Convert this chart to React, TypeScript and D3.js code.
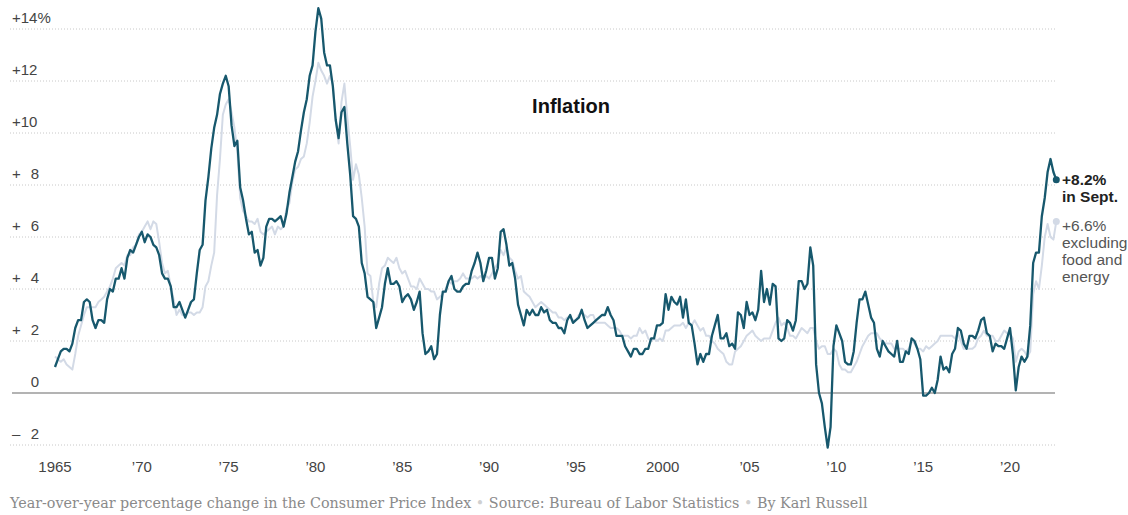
import React from "react";
import * as d3 from "d3";

// Bimonthly observations (Jan, Mar, May, Jul, Sep, Nov) starting Jan 1965, ending Sep 2022
const START_YEAR = 1965;
const STEP = 1 / 6;

const headline: number[] = [
  1.0, 1.3, 1.6, 1.7, 1.7, 1.6,
  1.9, 2.5, 2.8, 2.8, 3.5, 3.6,
  3.5, 2.8, 2.5, 2.8, 2.8, 2.7,
  3.6, 4.0, 3.9, 4.4, 4.4, 4.8,
  4.4, 5.2, 5.5, 5.4, 5.7, 6.0,
  6.2, 5.8, 6.1, 6.0, 5.7, 5.6,
  5.3, 4.6, 4.4, 4.4, 4.1, 3.3,
  3.3, 3.5, 3.2, 2.9, 3.2, 3.5,
  3.6, 4.6, 5.5, 5.7, 7.4, 8.3,
  9.4, 10.2, 10.7, 11.5, 11.9, 12.2,
  11.8, 10.3, 9.5, 9.7, 7.9, 7.4,
  6.7, 6.1, 6.2, 5.4, 5.5, 4.9,
  5.2, 6.4, 6.7, 6.7, 6.6, 6.7,
  6.8, 6.4, 6.9, 7.7, 8.3, 8.9,
  9.3, 10.1, 10.8, 11.3, 12.2, 12.6,
  13.9, 14.8, 14.4, 13.1, 12.6, 12.6,
  11.8, 10.5, 9.8, 10.8, 11.0, 9.6,
  8.4, 6.8, 6.7, 6.4, 5.0, 4.6,
  3.7, 3.6, 3.5, 2.5, 2.9, 3.3,
  4.2, 4.8, 4.2, 4.2, 4.3, 4.1,
  3.5, 3.7, 3.8, 3.6, 3.2, 3.5,
  3.9, 2.3, 1.5, 1.6, 1.8, 1.3,
  1.5, 3.0, 3.9, 3.9, 4.3, 4.5,
  4.0, 3.9, 3.9, 4.1, 4.2, 4.2,
  4.7, 5.0, 5.4, 5.0, 4.3, 4.7,
  5.2, 5.2, 4.4, 4.8, 6.2, 6.3,
  5.7, 4.9, 5.0, 4.4, 3.4, 3.0,
  2.6, 3.2, 3.0, 3.2, 3.0, 3.0,
  3.3, 3.1, 3.2, 2.8, 2.7, 2.7,
  2.5, 2.5, 2.3, 2.8, 3.0, 2.7,
  2.8, 2.9, 3.2, 2.8, 2.5, 2.6,
  2.7, 2.8, 2.9, 3.0, 3.0, 3.3,
  3.0, 2.8, 2.2, 2.2, 2.2, 1.8,
  1.6, 1.4, 1.7, 1.7, 1.5, 1.5,
  1.7, 1.7, 2.1, 2.1, 2.6, 2.6,
  2.7, 3.8, 3.2, 3.7, 3.5, 3.4,
  3.7, 2.9, 3.6, 2.7, 2.6, 1.9,
  1.1, 1.5, 1.2, 1.5, 1.5, 2.2,
  2.6, 3.0, 2.1, 2.1, 2.3, 1.8,
  1.9, 1.7, 3.1, 3.0, 2.5, 3.5,
  3.0, 3.1, 2.8, 3.2, 4.7, 3.5,
  4.0, 3.4, 4.2, 4.1, 2.1, 2.0,
  2.1, 2.8, 2.7, 2.4, 2.8, 4.3,
  4.3, 4.0, 4.2, 5.6, 4.9, 1.1,
  0.0, -0.4, -1.3, -2.1, -1.3, 1.8,
  2.6, 2.3, 2.0, 1.2, 1.1, 1.1,
  1.6, 2.7, 3.6, 3.6, 3.9, 3.4,
  2.9, 2.7, 1.7, 1.4, 2.0, 1.8,
  1.6, 1.5, 1.4, 2.0, 1.2, 1.2,
  1.6, 1.5, 2.1, 2.0, 1.7, 1.3,
  -0.1, -0.1, 0.0, 0.2, 0.0, 0.5,
  1.4, 0.9, 1.0, 0.8, 1.5, 1.7,
  2.5, 2.4, 1.9, 1.7, 2.2, 2.2,
  2.1, 2.4, 2.8, 2.9, 2.3, 2.2,
  1.6, 1.9, 1.8, 1.8, 1.7, 2.1,
  2.5, 1.5, 0.1, 1.0, 1.4, 1.2,
  1.4, 2.6, 5.0, 5.4, 5.4, 6.8,
  7.5, 8.5, 9.0, 8.5, 8.2,
];

const core: number[] = [
  1.4, 1.3, 1.2, 1.3, 1.1, 1.0,
  0.9, 1.5, 2.2, 2.6, 3.0, 3.3,
  3.3, 3.3, 3.3, 3.5, 3.6, 3.7,
  3.9, 4.1, 4.4, 4.8, 4.9, 5.0,
  4.9, 5.3, 5.3, 5.6, 5.7, 6.1,
  6.2, 6.4, 6.6, 6.3, 6.6, 6.5,
  5.8, 5.0, 4.6, 4.7, 4.1, 3.6,
  3.0, 3.2, 3.0, 3.0, 3.1, 3.1,
  3.0, 3.1, 3.1, 3.3, 4.1, 4.3,
  4.9, 5.4, 7.6, 9.0, 10.7, 11.1,
  11.3, 10.8, 10.2, 9.3, 7.5, 7.0,
  6.8, 6.6, 6.6, 6.5, 6.7, 6.2,
  6.1, 6.2, 6.3, 6.4, 6.1, 6.4,
  6.3, 6.4, 7.1, 7.3, 8.1, 8.6,
  8.7, 9.0, 9.1, 9.6, 10.4, 11.4,
  12.0, 12.7, 12.4, 12.2, 11.9, 12.2,
  11.9, 10.5, 9.6, 11.2, 11.9, 10.6,
  9.5, 8.2, 8.8, 8.4, 7.5, 6.4,
  4.6, 4.5, 3.5, 3.3, 4.2, 4.8,
  4.9, 5.2, 5.1, 5.0, 5.2, 4.8,
  4.6, 4.7, 4.4, 4.1, 4.1, 4.0,
  4.4, 4.2, 4.0, 4.0, 3.9, 3.9,
  3.6, 3.7, 3.8, 4.0, 4.3, 4.2,
  4.3, 4.3, 4.4, 4.6, 4.4, 4.4,
  4.4, 4.5, 4.4, 4.5, 4.4, 4.5,
  4.4, 4.6, 4.8, 5.0, 5.5, 5.3,
  5.6, 5.2, 5.1, 4.7, 4.4, 4.5,
  3.9, 3.8, 3.7, 3.5, 3.3, 3.4,
  3.5, 3.4, 3.3, 3.2, 3.1, 3.1,
  2.9, 2.9, 2.8, 2.9, 2.9, 2.8,
  2.8, 3.0, 3.1, 3.0, 2.9, 3.0,
  3.0, 2.7, 2.7, 2.7, 2.7, 2.6,
  2.5, 2.5, 2.5, 2.4, 2.2, 2.2,
  2.2, 2.1, 2.2, 2.2, 2.5, 2.3,
  2.4, 2.1, 2.0, 2.1, 2.0, 2.1,
  2.0, 2.4, 2.4, 2.5, 2.6, 2.6,
  2.6, 2.7, 2.5, 2.7, 2.6, 2.8,
  2.6, 2.4, 2.5, 2.2, 2.2, 2.0,
  1.9, 1.7, 1.6, 1.5, 1.2, 1.1,
  1.1, 1.6, 1.7, 1.8, 2.0, 2.2,
  2.3, 2.4, 2.2, 2.1, 2.0, 2.1,
  2.1, 2.1, 2.4, 2.7, 2.9, 2.6,
  2.7, 2.5, 2.2, 2.2, 2.1, 2.3,
  2.5, 2.4, 2.3, 2.5, 2.5, 2.0,
  1.7, 1.8, 1.8, 1.5, 1.5, 1.7,
  1.6, 1.1, 0.9, 0.9, 0.8, 0.8,
  1.0, 1.2, 1.5, 1.8, 2.0, 2.2,
  2.3, 2.3, 2.3, 2.1, 2.0, 1.9,
  1.9, 1.9, 1.7, 1.7, 1.7, 1.7,
  1.6, 1.7, 2.0, 1.9, 1.7, 1.7,
  1.6, 1.8, 1.7, 1.8, 1.9, 2.0,
  2.2, 2.2, 2.2, 2.2, 2.2, 2.1,
  2.3, 2.0, 1.7, 1.7, 1.7, 1.7,
  1.8, 2.1, 2.2, 2.4, 2.2, 2.2,
  2.2, 2.0, 2.0, 2.2, 2.4, 2.3,
  2.3, 2.1, 1.2, 1.6, 1.7, 1.6,
  1.4, 1.6, 3.8, 4.3, 4.0, 4.9,
  6.0, 6.5, 6.0, 5.9, 6.6,
];

const yTicks: number[] = [14, 12, 10, 8, 6, 4, 2, 0, -2];
const xTicks: number[] = [1965, 1970, 1975, 1980, 1985, 1990, 1995, 2000, 2005, 2010, 2015, 2020];
const xTickLabels: string[] = ["1965", "\u201970", "\u201975", "\u201980", "\u201985", "\u201990", "\u201995", "2000", "\u201905", "\u201910", "\u201915", "\u201920"];

const W = 1128;
const H = 515;

export default function App() {
  const x = d3.scaleLinear().domain([1965, 2020]).range([55, 1010]);
  const y = d3.scaleLinear().domain([0, 14]).range([393, 29]);
  const t = (i: number) => START_YEAR + i * STEP;

  const line = d3
    .line<number>()
    .x((_, i) => x(t(i)))
    .y((d) => y(d));

  const lastH = headline.length - 1;
  const lastC = core.length - 1;
  const sans = "'Liberation Sans', Arial, sans-serif";
  const gridX0 = 10;
  const gridX1 = 1055;
  const labelStyle = { fontFamily: sans, fontSize: 15, fill: "#444" };

  return (
    <div style={{ position: "absolute", left: 0, top: 0 }}>
      <svg width={W} height={H} style={{ display: "block", background: "#fff" }}>
        {/* grid */}
        {yTicks.map((v) =>
          v === 0 ? null : (
            <line
              key={"g" + v}
              x1={gridX0}
              x2={gridX1}
              y1={y(v)}
              y2={y(v)}
              stroke="#c8c8c8"
              strokeWidth={1}
              strokeDasharray="1,2"
            />
          )
        )}
        {/* y labels */}
        {yTicks.map((v) => {
          const yy = y(v) - 6;
          if (v === 0)
            return (
              <text key={"l" + v} x={39} y={yy} textAnchor="end" style={labelStyle}>
                0
              </text>
            );
          if (Math.abs(v) >= 10)
            return (
              <text key={"l" + v} x={12} y={yy} style={labelStyle}>
                {"+" + v + (v === 14 ? "%" : "")}
              </text>
            );
          return (
            <g key={"l" + v}>
              <text x={12} y={yy} style={labelStyle}>
                {v > 0 ? "+" : "\u2013"}
              </text>
              <text x={39} y={yy} textAnchor="end" style={labelStyle}>
                {Math.abs(v)}
              </text>
            </g>
          );
        })}
        {/* zero line */}
        <line x1={12} x2={gridX1} y1={y(0)} y2={y(0)} stroke="#b3b3b3" strokeWidth={2} />

        {/* core line */}
        <path d={line(core) || ""} fill="none" stroke="#d3dae6" strokeWidth={2} strokeLinejoin="round" />
        {/* headline */}
        <path d={line(headline) || ""} fill="none" stroke="#17586d" strokeWidth={2.3} strokeLinejoin="round" />

        {/* end dots */}
        <circle cx={x(t(lastC))} cy={y(core[lastC])} r={3.5} fill="#d3dae6" />
        <circle cx={x(t(lastH))} cy={y(headline[lastH])} r={3.5} fill="#17586d" />

        {/* annotations */}
        <text x={1062} y={y(headline[lastH]) + 5} style={{ fontFamily: sans, fontSize: 15.5, fontWeight: 700, fill: "#222" }}>
          +8.2%
        </text>
        <text x={1062} y={y(headline[lastH]) + 22} style={{ fontFamily: sans, fontSize: 15.5, fontWeight: 700, fill: "#222" }}>
          in Sept.
        </text>
        {["+6.6%", "excluding", "food and", "energy"].map((s, i) => (
          <text key={s} x={1062} y={y(core[lastC]) + 10 + i * 17} style={{ fontFamily: sans, fontSize: 15.5, fill: "#555" }}>
            {s}
          </text>
        ))}

        {/* title */}
        <text x={571} y={113} textAnchor="middle" style={{ fontFamily: sans, fontSize: 20, fontWeight: 700, fill: "#111" }}>
          Inflation
        </text>

        {/* x labels */}
        {xTicks.map((v, i) => (
          <text key={"x" + v} x={x(v)} y={472} textAnchor="middle" style={labelStyle}>
            {xTickLabels[i]}
          </text>
        ))}

        {/* footer */}
        <text x={10} y={508} style={{ fontFamily: "'DejaVu Serif', Georgia, serif", fontSize: 14.3, fill: "#8a8a8a" }}>
          <tspan>Year-over-year percentage change in the Consumer Price Index</tspan>
          <tspan fill="#d0d0d0">{"  \u2022  "}</tspan>
          <tspan>Source: Bureau of Labor Statistics</tspan>
          <tspan fill="#d0d0d0">{"  \u2022  "}</tspan>
          <tspan>By Karl Russell</tspan>
        </text>
      </svg>
    </div>
  );
}
